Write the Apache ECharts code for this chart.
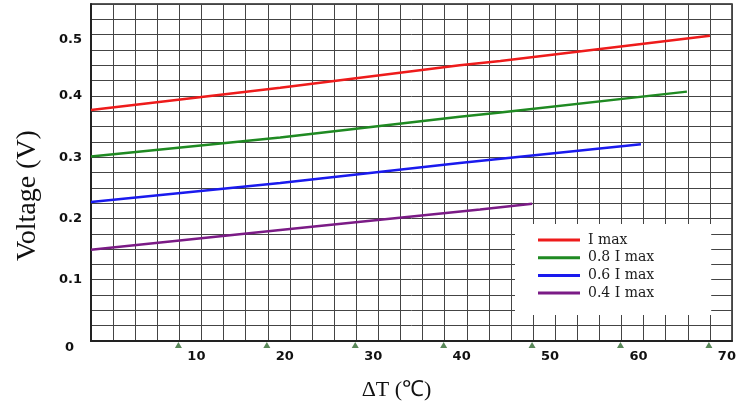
<!DOCTYPE html>
<html>
<head>
<meta charset="utf-8">
<script src="https://cdn.jsdelivr.net/npm/echarts@6/dist/echarts.min.js"></script>
<style>html,body{margin:0;padding:0;background:#fff}#c{width:749px;height:406px}</style>
</head>
<body>
<div id="c"></div>
<script>
// Series names
const seriesNames = ['I max', '0.8 I max', '0.6 I max', '0.4 I max'];
// ΔT (x) and Voltage (y) readings per series
const redX = [0, 21.4, 41.7, 46.3, 70];
const redY = [0.377, 0.4135, 0.450, 0.457, 0.498];
const greenX = [0, 21.4, 41.7, 46.3, 67.4];
const greenY = [0.301, 0.332, 0.366, 0.373, 0.407];
const blueX = [0, 21.4, 41.7, 62.2];
const blueY = [0.227, 0.258, 0.2906, 0.321];
const purpleX = [0, 21.4, 44, 49.9];
const purpleY = [0.149, 0.181, 0.2145, 0.224];
// Tick labels / markers
const xTickValues = [10, 20, 30, 40, 50, 60, 70];
const yTickValues = [0, 0.1, 0.2, 0.3, 0.4, 0.5];

const pairs = (xs, ys) => xs.map((x, i) => [x, ys[i]]);
const colors = ['#ee1b1b', '#1f8a22', '#1a1aee', '#7b1b86'];
const dataSets = [pairs(redX, redY), pairs(greenX, greenY), pairs(blueX, blueY), pairs(purpleX, purpleY)];

const chart = echarts.init(document.getElementById('c'), null, {renderer: 'canvas'});

const option = {
  backgroundColor: '#fff',
  animation: false,
  grid: {left: 91, right: 17, top: 4, bottom: 63, show: true, borderColor: '#222', borderWidth: 1.5, containLabel: false},
  xAxis: {
    type: 'value', min: 0, max: 72.5, interval: 2.5,
    name: 'ΔT (℃)', nameLocation: 'middle', nameGap: 38,
    nameTextStyle: {fontFamily: 'Liberation Serif', fontSize: 22, color: '#111', padding: [0, 30, 0, 0]},
    axisLine: {show: true, lineStyle: {color: '#222', width: 2}},
    axisTick: {show: false},
    splitLine: {show: true, lineStyle: {color: '#444', width: 1}},
    axisLabel: {
      margin: 9, color: '#111', fontFamily: 'DejaVu Sans', fontWeight: 'bold', fontSize: 13,
      padding: [0, 0, 0, 34],
      formatter: v => (xTickValues.some(t => Math.abs(t - v) < 1e-6) ? String(Math.round(v)) : '')
    }
  },
  yAxis: {
    type: 'value', min: 0, max: 0.55, interval: 0.025,
    name: 'Voltage (V)', nameLocation: 'middle', nameGap: 49,
    nameTextStyle: {fontFamily: 'Liberation Serif', fontSize: 28, color: '#111', padding: [0, 46, 0, 0]},
    axisLine: {show: true, lineStyle: {color: '#222', width: 2}},
    axisTick: {show: false},
    splitLine: {show: true, lineStyle: {color: '#444', width: 1}},
    axisLabel: {
      margin: 9, color: '#111', fontFamily: 'DejaVu Sans', fontWeight: 'bold', fontSize: 13,
      formatter: v => {
        const t = yTickValues.find(y => Math.abs(y - v) < 1e-6);
        if (t === undefined) return '';
        if (t === 0) return '{z|0}';
        if (t === 0.5) return '{f|0.5}';
        return t.toFixed(1);
      },
      rich: {
        z: {fontFamily: 'DejaVu Sans', fontWeight: 'bold', fontSize: 13, color: '#111', padding: [14, 8, 0, 0]},
        f: {fontFamily: 'DejaVu Sans', fontWeight: 'bold', fontSize: 13, color: '#111', padding: [10, 0, 0, 0]}
      }
    }
  },
  legend: {
    data: seriesNames.map(n => ({name: n, icon: 'rect'})),
    orient: 'vertical', left: 515, top: 224,
    backgroundColor: '#fff',
    padding: [9, 57, 15, 23],
    itemWidth: 42, itemHeight: 3, itemGap: 3.7,
    textStyle: {fontFamily: 'DejaVu Serif', fontSize: 14, color: '#1a1a1a', padding: [0, 0, 0, 3], lineHeight: 14}
  },
  series: seriesNames.map((n, i) => ({
    name: n, type: 'line', data: dataSets[i], symbol: 'none', smooth: false,
    lineStyle: {color: colors[i], width: 2.5}, itemStyle: {color: colors[i]}, z: 3
  })).concat([{
    name: 'ticks', type: 'scatter', data: xTickValues.map(x => [x, 0]),
    symbol: 'triangle', symbolSize: [7, 6], symbolOffset: [-1, 4], clip: false,
    itemStyle: {color: '#2f6a2f'}, z: 4, silent: true
  }])
};
chart.setOption(option);
</script>
</body>
</html>
